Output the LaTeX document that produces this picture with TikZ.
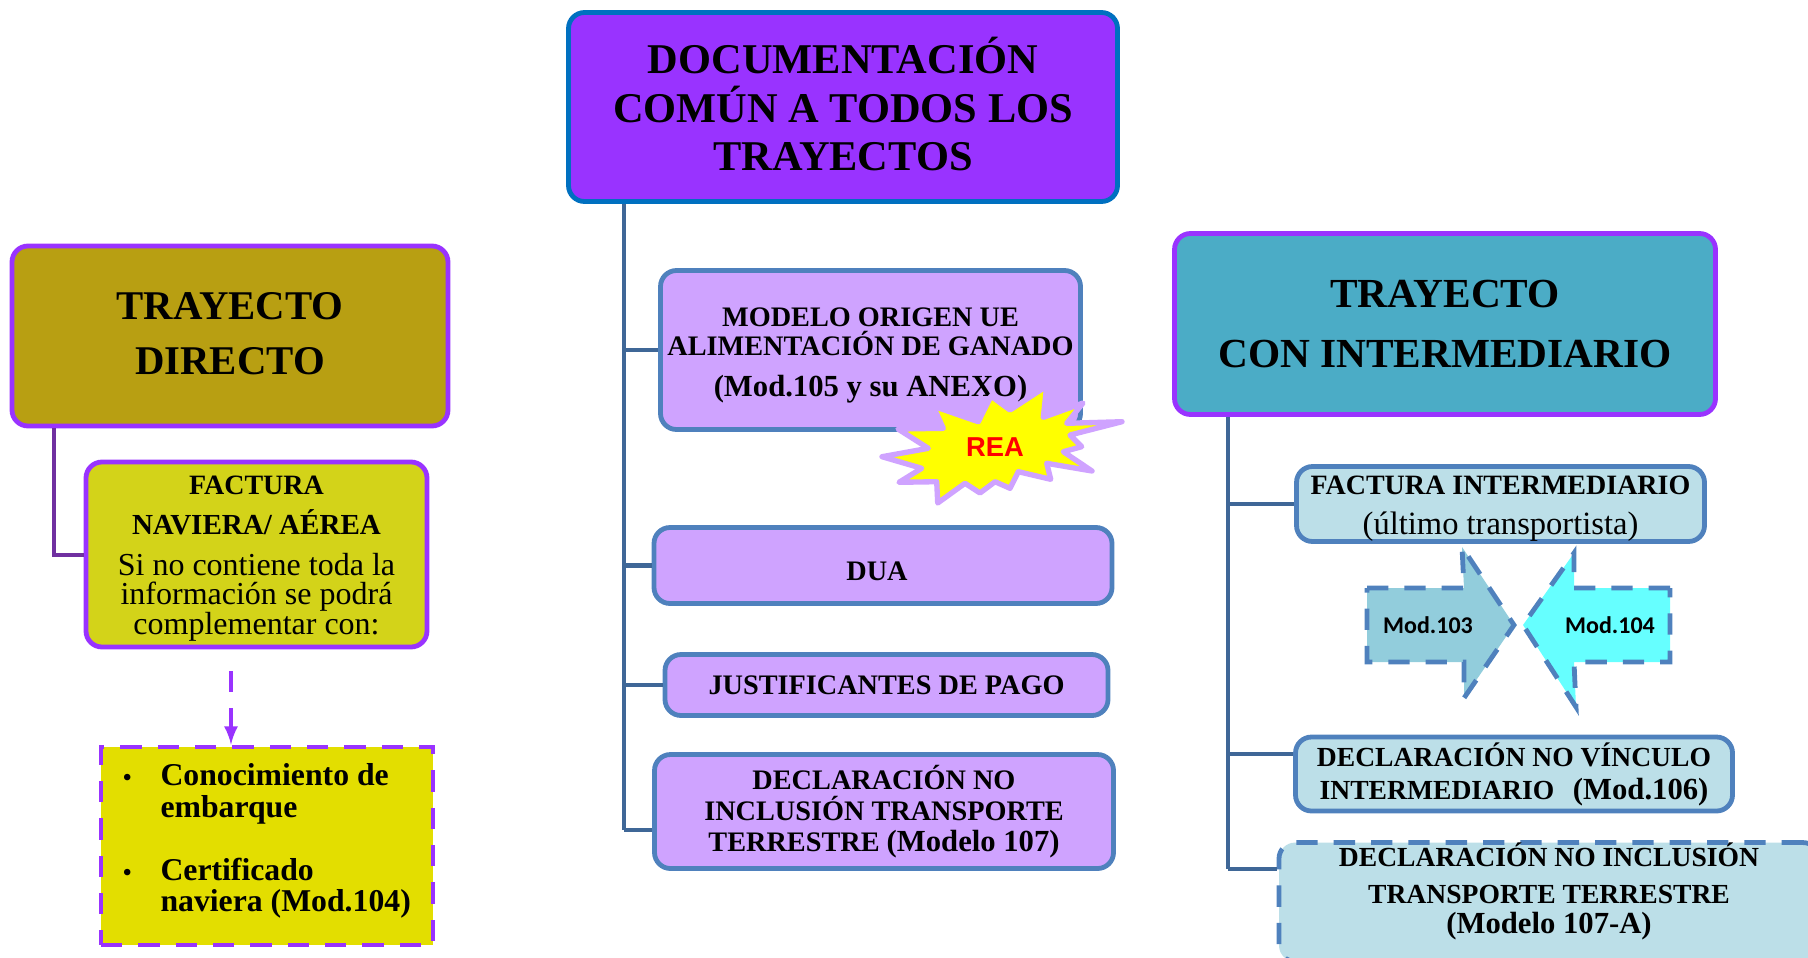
\documentclass[tikz,border=0pt]{standalone}
\usepackage{fontspec}
\usetikzlibrary{arrows}
\setmainfont{Liberation Serif}
\newfontfamily\reafont{Liberation Sans}
\newfontfamily\modfont{Carlito}
\definecolor{violeta}{HTML}{9933FF}
\definecolor{azulborde}{HTML}{4F81BD}
\definecolor{azultronco}{HTML}{3F6797}
\definecolor{azulcomun}{HTML}{0070C0}
\definecolor{lila}{HTML}{CFA3FF}
\definecolor{celeste}{HTML}{BCDFE8}
\definecolor{morado}{HTML}{7030A0}
\definecolor{amarillo}{RGB}{255,255,0}
\definecolor{colordirecto}{HTML}{B89F12}
\definecolor{colornaviera}{HTML}{D3D319}
\definecolor{colorlista}{HTML}{E3DE00}
\definecolor{colorinter}{HTML}{4BACC6}
\definecolor{colorcientotres}{HTML}{92CDDC}
\definecolor{colorcientocuatro}{HTML}{66FFFF}
\newcommand{\negrita}{\bfseries\fontsize{21}{21.4}\selectfont}
\newcommand{\parentesis}{\fontsize{23}{24}\selectfont}
\newcommand{\punto}{\makebox[28pt][l]{\fontsize{18}{18}\selectfont\textbullet}}
\tikzset{
    pixbox/.style 2 args={minimum width=#1*.75pt, minimum height=#2*.75pt, inner sep=0pt, align=center, rounded corners=12pt, line width=3.6pt},
    pasos/.style={dash pattern=on 16pt off 12pt, line width=3.6pt},
    lilabox/.style={draw=azulborde, fill=lila, font=\bfseries\fontsize{21.2}{23.3}\selectfont},
    azulbox/.style={draw=azulborde, fill=celeste, font=\bfseries\fontsize{20.7}{23.3}\selectfont},
    tronco/.style={azultronco, line width=3.6pt},
    modflecha/.style={draw=azulborde, pasos},
    modtexto/.style={font=\modfont\bfseries\fontsize{18}{20}\selectfont}
}
\begin{document}
\begin{tikzpicture}[x=.75pt, y=-.75pt]
    \useasboundingbox (0, 0) rectangle (1808, 957);
    \clip (0, 0) rectangle (1808, 957);

    \coordinate (troncoizq) at (54, 555);
    \coordinate (troncocen) at (624, 830);
    \coordinate (troncoder) at (1228, 869);
    \coordinate (ramavinculo) at (1228, 754);
    \coordinate (inicioflecha) at (231, 671);

    % central column
    \node[pixbox={549}{189}, draw=azulcomun, fill=violeta, font=\bfseries\fontsize{31.8}{36.5}\selectfont] (comun) at (843, 107) {DOCUMENTACIÓN\\COMÚN A TODOS LOS\\TRAYECTOS\\[-32pt]\mbox{}};
    \draw[tronco] (comun.south -| troncocen) -- (troncocen);
    \node[pixbox={420}{159}, lilabox] (origen) at (870.5, 350) {\rule{0pt}{22pt}MODELO ORIGEN UE\\[-1.5pt]ALIMENTACIÓN DE GANADO\\[7pt]{\parentesis (Mod.105 y su ANEXO)}};
    \node[pixbox={458}{76}, lilabox] (dua) at (883, 565.5) {\rule{0pt}{22pt}DUA\hspace{9pt}};
    \node[pixbox={443}{61}, lilabox] (pago) at (886.5, 685) {JUSTIFICANTES DE PAGO};
    \node[pixbox={459}{114}, lilabox] (noinclusion) at (884, 811.5) {\rule{0pt}{17pt}DECLARACIÓN NO\\INCLUSIÓN TRANSPORTE\\TERRESTRE {\parentesis (Modelo 107)}};
    \draw[tronco] (origen.west -| troncocen) -- (origen.west);
    \draw[tronco] (dua.west -| troncocen) -- (dua.west);
    \draw[tronco] (pago.west -| troncocen) -- (pago.west);
    \draw[tronco] (troncocen) -- (noinclusion.west |- troncocen);

    \draw[fill=amarillo, draw=lila, line width=4pt, line join=round] (933, 406) -- (978.3, 421.7) -- (991, 396) -- (1010, 410) -- (1046.7, 386) -- (1043.3, 417.3) -- (1083, 403) -- (1066.7, 423.3) -- (1122, 421.7) -- (1070, 435) -- (1081.7, 446.7) -- (1063.3, 451.7) -- (1092, 471) -- (1046.7, 463.3) -- (1050.7, 479.3) -- (1018.3, 471.7) -- (1010, 488.3) -- (995, 481.7) -- (980, 493) -- (965, 483.3) -- (937.7, 503) -- (936.7, 481.7) -- (899, 482.3) -- (921.7, 468.3) -- (882, 456.7) -- (928.3, 448.3) -- (898, 429) -- (943.3, 428.3) -- cycle;
    \node[text=red, font=\reafont\bfseries\fontsize{20.5}{22}\selectfont] (rea) at (995, 447) {REA};

    % left column
    \node[pixbox={436}{180}, draw=violeta, fill=colordirecto, font=\bfseries\fontsize{30.6}{41.2}\selectfont] (directo) at (230, 336) {TRAYECTO\\DIRECTO\\[-38pt]\mbox{}};
    \node[pixbox={341}{185}, draw=violeta, fill=colornaviera, font=\fontsize{24}{21.4}\selectfont] (factura) at (256.5, 554.5) {\rule{0pt}{20pt}{\negrita FACTURA}\\[9pt]{\negrita\fontsize{21.8}{22}\selectfont NAVIERA/ AÉREA}\\[9pt]Si no contiene toda la\\información se podrá\\complementar con:};
    \draw[morado, line width=3.6pt] (directo.south -| troncoizq) -- (troncoizq) -- (factura.west |- troncoizq);
    \node[pixbox={332}{198}, draw=violeta, fill=colorlista, pasos, rounded corners=0pt, align=left, font=\bfseries\fontsize{23.8}{23.4}\selectfont] (lista) at (267, 846) {\punto Conocimiento de\\\makebox[28pt]{}embarque\\[24pt]\punto Certificado\\\makebox[28pt]{}naviera (Mod.104)\hspace*{3pt}\\[-11pt]\mbox{}};
    \draw[violeta, pasos, -latex] (inicioflecha) -- (lista.north -| inicioflecha);

    % right column
    \node[pixbox={541}{181}, draw=violeta, fill=colorinter, font=\bfseries\fontsize{31}{44.5}\selectfont] (intermedio) at (1445, 324) {TRAYECTO\\CON INTERMEDIARIO};
    \draw[tronco] (intermedio.south -| troncoder) -- (troncoder);
    \node[pixbox={408}{75}, azulbox, font=\bfseries\fontsize{21}{21}\selectfont] (facturaint) at (1500.5, 504) {\rule{0pt}{21pt}FACTURA INTERMEDIARIO\\[8.7pt]{\mdseries\fontsize{24.4}{25}\selectfont (último transportista)}};
    \node[pixbox={437}{74}, azulbox] (vinculo) at (1514, 774) {\rule{0pt}{17.5pt}DECLARACIÓN NO VÍNCULO\\[1.5pt]INTERMEDIARIO\hspace{14pt}{\parentesis (Mod.106)}};
    \node[pixbox={540}{116}, azulbox, pasos] (inclusion) at (1549, 902) {DECLARACIÓN NO INCLUSIÓN\\[4.5pt]TRANSPORTE TERRESTRE\\[-1pt]{\parentesis (Modelo 107-A)}\\[-2pt]\mbox{}};
    \draw[tronco] (facturaint.west -| troncoder) -- (facturaint.west);
    \draw[tronco] (ramavinculo) -- (vinculo.west |- ramavinculo);
    \draw[tronco] (troncoder) -- (inclusion.west |- troncoder);

    \draw[modflecha, fill=colorcientotres] (1367, 588) -- (1464, 588) -- (1462, 547) -- (1514, 625) -- (1464, 698) -- (1464, 662) -- (1367, 662) -- cycle;
    \draw[modflecha, fill=colorcientocuatro] (1670, 588) -- (1574, 588) -- (1574, 553) -- (1523, 625) -- (1576, 707) -- (1574, 662) -- (1670, 662) -- cycle;
    \node[modtexto] (mod103t) at (1428, 625) {Mod.103};
    \node[modtexto] (mod104t) at (1610, 625) {Mod.104};
\end{tikzpicture}
\end{document}
